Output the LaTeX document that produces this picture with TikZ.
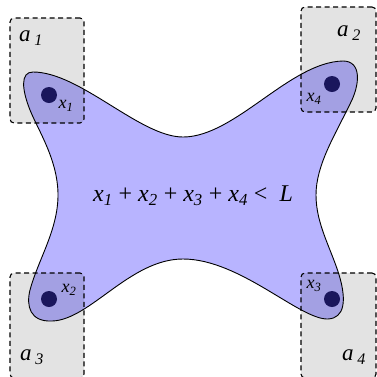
\documentclass[tikz,border=0pt]{standalone}
\usepackage{fontspec}
\setmainfont{Liberation Serif}
\definecolor{blobblue}{RGB}{184,180,255}
\definecolor{dotblue}{RGB}{26,22,92}
\newcommand{\sub}[2]{\textit{#1}\textsubscript{\textit{#2}}}
\begin{document}
\begin{tikzpicture}[x=1pt, y=-1pt,
    region/.style={fill=black, fill opacity=0.11, rounded corners=4pt,
                   minimum width=74pt, minimum height=105pt, inner sep=0pt,
                   postaction={draw=black, draw opacity=1, line width=1.1pt, dash pattern=on 5pt off 3.5pt}},
    point/.style={circle, fill=dotblue, minimum size=16pt, inner sep=0pt},
    biglbl/.style={inner sep=0pt, font=\fontsize{23}{26}\selectfont},
    sumlbl/.style={inner sep=0pt, font=\fontsize{24}{28}\selectfont},
    ptlbl/.style={inner sep=0pt, font=\fontsize{18}{21}\selectfont}]
    \useasboundingbox (0,0) rectangle (377,376);
    \clip (0,0) rectangle (377,376);

    % Область
    \draw[fill=blobblue, line width=0.9pt] (33,72)
        .. controls (80,72) and (140,137) .. (183,137)
        .. controls (235,137) and (290,62) .. (343,61)
        .. controls (362,61) and (360,85) .. (350,104)
        .. controls (335,135) and (316,165) .. (316,195)
        .. controls (316,225) and (332,250) .. (340,278)
        .. controls (346,300) and (345,318) .. (328,319)
        .. controls (300,320) and (240,259) .. (183,259)
        .. controls (130,259) and (90,320) .. (52,321)
        .. controls (30,322) and (26,306) .. (30,290)
        .. controls (38,260) and (58,230) .. (58,195)
        .. controls (58,160) and (38,130) .. (30,110)
        .. controls (22,90) and (20,72) .. (33,72) -- cycle;

    % Прямоугольники
    \node[region] (A1) at (47,70.5) {};
    \node[region, minimum width=75pt] (A2) at (338.5,59.5) {};
    \node[region] (A3) at (47,325.5) {};
    \node[region, minimum width=75pt] (A4) at (338.5,325.5) {};

    % Точки
    \node[point] (X1) at (49,95) {};
    \node[point] (X4) at (332,84) {};
    \node[point] (X2) at (49,299) {};
    \node[point] (X3) at (332,299) {};

    % Подписи
    \node[biglbl] (LA1) at (31,38) {\textit{a}\,\textsubscript{\textit{1}}};
    \node[biglbl] (LA2) at (349,33) {\textit{a}\,\textsubscript{\textit{2}}};
    \node[biglbl] (LA3) at (32,357) {\textit{a}\,\textsubscript{\textit{3}}};
    \node[biglbl] (LA4) at (354,357) {\textit{a}\,\textsubscript{\textit{4}}};
    \node[ptlbl] (LX1) at (66,106) {\sub{x}{1}};
    \node[ptlbl] (LX4) at (314,99) {\sub{x}{4}};
    \node[ptlbl] (LX2) at (69,290) {\sub{x}{2}};
    \node[ptlbl] (LX3) at (314,286) {\sub{x}{3}};
    \node[sumlbl] (SUM) at (193,196) {\sub{x}{1} + \sub{x}{2} + \sub{x}{3} + \sub{x}{4} < \ \textit{L}};
\end{tikzpicture}
\end{document}
